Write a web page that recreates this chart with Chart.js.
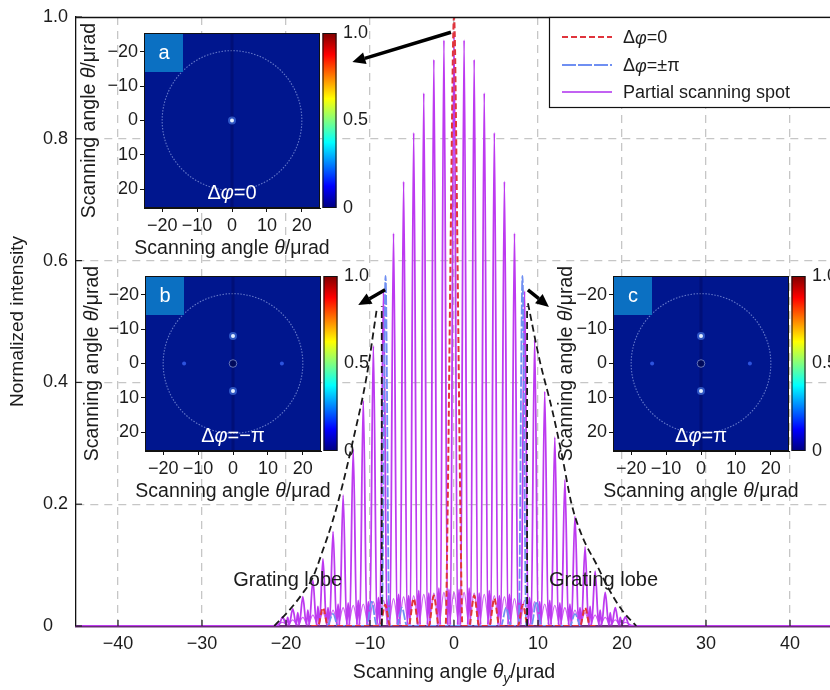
<!DOCTYPE html>
<html><head><meta charset="utf-8">
<script src="https://cdn.jsdelivr.net/npm/chart.js@4.4.1/dist/chart.umd.min.js"></script>
<style>
html,body{margin:0;padding:0;background:#fff;}
#wrap{position:relative;width:830px;height:690px;overflow:hidden;background:#fff;}
canvas{position:absolute;}
</style></head><body>
<div id="wrap">
<canvas id="main" width="830" height="690" style="left:0;top:0"></canvas>
<canvas id="insA" width="290" height="240" style="left:80px;top:20px"></canvas>
<canvas id="insB" width="290" height="240" style="left:81px;top:263px"></canvas>
<canvas id="insC" width="290" height="240" style="left:549px;top:263px"></canvas>
</div>
<script>
// ---------------- data ----------------
const xTickVals = [-40, -30, -20, -10, 0, 10, 20, 30, 40];
const yTickVals = [0, 0.2, 0.4, 0.6, 0.8, 1.0];
const insetTickVals = [-20, -10, 0, 10, 20];
const cbTickVals = [0, 0.5, 1.0];

// partial scanning spot: spike centres, peak heights, sidelobe heights
const spikeX = [-20.4, -19.2, -18.0, -16.8, -15.6, -14.4, -13.2, -12.0, -10.8, -9.6, -8.4, -7.2, -6.0, -4.8, -3.6, -2.4, -1.2, 0,
                1.2, 2.4, 3.6, 4.8, 6.0, 7.2, 8.4, 9.6, 10.8, 12.0, 13.2, 14.4, 15.6, 16.8, 18.0, 19.2, 20.4];
const spikeH = [0.015, 0.028, 0.048, 0.075, 0.11, 0.155, 0.215, 0.29, 0.37, 0.46, 0.55, 0.645, 0.73, 0.81, 0.875, 0.93, 0.962, 0.975,
                0.962, 0.93, 0.875, 0.81, 0.73, 0.645, 0.55, 0.47, 0.385, 0.31, 0.24, 0.18, 0.13, 0.09, 0.055, 0.03, 0.015];
const lobeH = [0.014, 0.022, 0.026, 0.032, 0.03, 0.036, 0.038, 0.042, 0.04, 0.047, 0.045, 0.052, 0.05, 0.058, 0.054, 0.062, 0.06,
               0.06, 0.062, 0.054, 0.058, 0.05, 0.052, 0.045, 0.047, 0.04, 0.042, 0.038, 0.036, 0.03, 0.032, 0.026, 0.022, 0.014];
const meshH = [0.006, 0.01, 0.014, 0.018, 0.022, 0.026, 0.03, 0.034, 0.036, 0.04, 0.042, 0.045, 0.048, 0.05, 0.052, 0.054, 0.055, 0.055,
               0.055, 0.054, 0.052, 0.05, 0.048, 0.045, 0.042, 0.04, 0.036, 0.034, 0.03, 0.026, 0.022, 0.018, 0.014, 0.01, 0.006];

// Δφ = 0
const redX = [-17, -16.2, -15.6, -15.0, -9.2, -8.8, -8.2, -7.6, -5.4, -4.8, -4.2, -3.0, -2.4, -1.8, -1.0, -0.75, -0.5, -0.3, -0.12, 0,
              0.12, 0.3, 0.5, 0.75, 1.0, 1.8, 2.4, 3.0, 4.2, 4.8, 5.4, 7.6, 8.2, 8.8, 9.2, 15.0, 15.6, 16.2, 17];
const redY = [0, 0, 0.03, 0, 0, 0, 0.035, 0, 0, 0.045, 0, 0, 0.05, 0, 0, 0.2, 0.5, 0.75, 0.95, 1.0,
              0.95, 0.75, 0.5, 0.2, 0, 0, 0.05, 0, 0, 0.045, 0, 0, 0.035, 0, 0, 0, 0.03, 0, 0];
// Δφ = ±π
const blueX = [-15, -14.4, -13.8, -10.4, -9.8, -9.2, -8.6, -8.15, -7.7, -6.8, -6.2, -5.6, 5.6, 6.2, 6.8, 7.7, 8.15, 8.6, 9.2, 9.8, 10.4, 13.8, 14.4, 15];
const blueY = [0, 0.02, 0, 0, 0.04, 0, 0, 0.575, 0, 0, 0.03, 0, 0, 0.03, 0, 0, 0.575, 0, 0, 0.04, 0, 0, 0.02, 0];
// black dashed guide curves
const envLX = [-21.4, -19.6, -18.0, -16.8, -15.6, -14.5, -13.3, -12.1, -10.4, -9.2];
const envLY = [0, 0.026, 0.054, 0.08, 0.125, 0.17, 0.23, 0.30, 0.41, 0.52];
const envRX = [8.8, 10.2, 11.7, 12.9, 14.0, 15.3, 16.9, 18.5, 20.0, 21.7];
const envRY = [0.53, 0.436, 0.354, 0.277, 0.2, 0.146, 0.103, 0.059, 0.026, 0];
const vLineX = [-8.6, 8.7];
const vLineTop = [0.525, 0.525];

// annotations (data units)
const arrows = [
  {from: [-0.36, 0.975], to: [-12.1, 0.926]},
  {from: [-8.2, 0.552], to: [-11.4, 0.527]},
  {from: [8.8, 0.552], to: [11.3, 0.524]}
];
const gratingLabels = [{x: -19.8, y: 0.074}, {x: 17.8, y: 0.074}];

// insets
const fovRadius = 20;
const spotsA = [{x: 0, y: 0}];
const spotsBC = [{x: 0, y: -8}, {x: 0, y: 8}];
const faintBC = [{x: -14, y: 0}, {x: 14, y: 0}];
const ringBC = [{x: 0, y: 0}];

// ---------------- style ----------------
const FONT = "'Liberation Sans', Arial, Helvetica, sans-serif";
const TXT = '#1c1c1c';
const RED = '#e0343c', BLUE = '#6f8ff2', PURPLE = '#bd3af0', BLACK = '#1a1a1a', GRID = '#c6c6c6';
Chart.defaults.font.family = FONT;
Chart.defaults.color = TXT;

const fmtSigned = v => v < 0 ? '\u2212' + Math.abs(v) : String(v);

function drawRich(ctx, parts, x, y, size, align, color, rot) {
  ctx.save();
  ctx.translate(x, y);
  if (rot) ctx.rotate(rot);
  ctx.fillStyle = color;
  ctx.textBaseline = 'middle';
  ctx.textAlign = 'left';
  const fontFor = st => (st.indexOf('i') >= 0 ? 'italic ' : '') + (st.indexOf('sub') >= 0 ? Math.round(size * 0.72) : size) + 'px ' + FONT;
  let total = 0;
  const widths = parts.map(([t, st]) => { ctx.font = fontFor(st); const w = ctx.measureText(t).width; total += w; return w; });
  let cx = align === 'center' ? -total / 2 : (align === 'right' ? -total : 0);
  parts.forEach(([t, st], i) => {
    ctx.font = fontFor(st);
    ctx.fillText(t, cx, st.indexOf('sub') >= 0 ? size * 0.32 : 0);
    cx += widths[i];
  });
  ctx.restore();
}

// ---------------- build main series ----------------
const purplePts = [{x: -45, y: 0}, {x: -21.6, y: 0}];
for (let i = 0; i < spikeX.length; i++) {
  const c = spikeX[i];
  purplePts.push({x: c - 0.42, y: 0.002}, {x: c, y: spikeH[i]}, {x: c + 0.42, y: 0.002});
  if (i < lobeH.length) purplePts.push({x: (c + spikeX[i + 1]) / 2, y: lobeH[i]});
}
purplePts.push({x: 21.6, y: 0}, {x: 44.76, y: 0});
const meshPts = [{x: -21.6, y: 0}];
for (let i = 0; i < spikeX.length; i++) {
  meshPts.push({x: spikeX[i], y: meshH[i]});
  meshPts.push({x: spikeX[i] + 0.6, y: 0.002});
}
const zip = (xs, ys) => xs.map((x, i) => ({x, y: ys[i]}));

const lineDs = (data, color, width, dash, order, mono) => ({
  data, showLine: true, borderColor: color, borderWidth: width, borderDash: dash, pointRadius: 0, order,
  tension: 0, cubicInterpolationMode: mono ? 'monotone' : 'default'
});

const mainDatasets = [
  lineDs(meshPts, 'rgba(200,70,240,0.85)', 1.3, [], 6, true),
  lineDs(purplePts, PURPLE, 1.8, [], 5, true),
  lineDs(zip(blueX, blueY), BLUE, 1.8, [10, 2], 4, true),
  lineDs(zip(redX, redY), RED, 2, [6, 3], 3, true),
  lineDs(zip(envLX, envLY), BLACK, 1.8, [7, 4], 1, true),
  lineDs(zip(envRX, envRY), BLACK, 1.8, [7, 4], 1, true),
  lineDs([{x: vLineX[0], y: 0}, {x: vLineX[0], y: vLineTop[0]}], BLACK, 1.8, [7, 4], 1, false),
  lineDs([{x: vLineX[1], y: 0}, {x: vLineX[1], y: vLineTop[1]}], BLACK, 1.8, [7, 4], 1, false)
];

const legendItems = [
  {parts: [['\u0394', ''], ['\u03c6', 'i'], ['=0', '']], color: RED, dash: [6, 3]},
  {parts: [['\u0394', ''], ['\u03c6', 'i'], ['=\u00b1\u03c0', '']], color: BLUE, dash: [14, 2]},
  {parts: [['Partial scanning spot', '']], color: '#c262f2', dash: []}
];

function drawArrow(ctx, x1, y1, x2, y2) {
  const a = Math.atan2(y2 - y1, x2 - x1);
  const hl = 13, hw = 6;
  const bx = x2 - hl * Math.cos(a), by = y2 - hl * Math.sin(a);
  ctx.strokeStyle = '#000'; ctx.fillStyle = '#000'; ctx.lineWidth = 3.5; ctx.setLineDash([]);
  ctx.beginPath(); ctx.moveTo(x1, y1); ctx.lineTo(bx, by); ctx.stroke();
  ctx.beginPath();
  ctx.moveTo(x2, y2);
  ctx.lineTo(bx + hw * Math.sin(a), by - hw * Math.cos(a));
  ctx.lineTo(bx - hw * Math.sin(a), by + hw * Math.cos(a));
  ctx.closePath(); ctx.fill();
}

const mainDecor = {
  id: 'mainDecor',
  afterDraw(chart) {
    const {ctx, chartArea: ca, scales: {x, y}} = chart;
    ctx.save();
    ctx.strokeStyle = '#111'; ctx.lineWidth = 1.3;
    ctx.beginPath(); ctx.moveTo(ca.left, ca.top + 0.5); ctx.lineTo(ca.right, ca.top + 0.5); ctx.stroke();
    ctx.strokeStyle = '#222'; ctx.lineWidth = 1.2;
    xTickVals.forEach(v => { const px = x.getPixelForValue(v); ctx.beginPath(); ctx.moveTo(px, ca.bottom); ctx.lineTo(px, ca.bottom - 6); ctx.stroke(); });
    yTickVals.forEach(v => { const py = y.getPixelForValue(v); ctx.beginPath(); ctx.moveTo(ca.left, py); ctx.lineTo(ca.left + 6, py); ctx.stroke(); });
    arrows.forEach(a => drawArrow(ctx, x.getPixelForValue(a.from[0]), y.getPixelForValue(a.from[1]), x.getPixelForValue(a.to[0]), y.getPixelForValue(a.to[1])));
    gratingLabels.forEach(g => drawRich(ctx, [['Grating lobe', '']], x.getPixelForValue(g.x), y.getPixelForValue(g.y), 20, 'center', TXT));
    drawRich(ctx, [['Normalized intensity', '']], 18, (ca.top + ca.bottom) / 2, 19, 'center', TXT, -Math.PI / 2);
    drawRich(ctx, [['Scanning angle ', ''], ['\u03b8', 'i'], ['y', 'isub'], ['/\u03bcrad', '']], x.getPixelForValue(0), 673, 19.5, 'center', TXT);
    // legend
    ctx.fillStyle = '#fff'; ctx.fillRect(549.5, 17.5, 300, 90);
    ctx.strokeStyle = '#111'; ctx.lineWidth = 1.2; ctx.setLineDash([]);
    ctx.strokeRect(549.5, 17.5, 300, 90);
    const rows = [37, 65, 92];
    legendItems.forEach((it, i) => {
      ctx.save();
      ctx.strokeStyle = it.color; ctx.lineWidth = 2; ctx.setLineDash(it.dash);
      ctx.beginPath(); ctx.moveTo(562, rows[i]); ctx.lineTo(612, rows[i]); ctx.stroke();
      ctx.restore();
      drawRich(ctx, it.parts, 623, rows[i] + 1.5, 18, 'left', TXT);
    });
    ctx.restore();
  }
};

new Chart(document.getElementById('main'), {
  type: 'scatter',
  data: {datasets: mainDatasets},
  options: {
    responsive: false, animation: false, events: [],
    layout: {padding: {left: 43, top: 17, right: 0, bottom: 0}},
    plugins: {legend: {display: false}, tooltip: {enabled: false}},
    scales: {
      x: {
        type: 'linear', min: -45, max: 44.76,
        afterBuildTicks: s => { s.ticks = xTickVals.map(v => ({value: v})); },
        afterFit: s => { s.height = 64; },
        grid: {color: GRID, lineWidth: 1.3, drawTicks: false},
        border: {display: true, color: '#6b2c78', width: 2.5, dash: [8, 6]},
        ticks: {padding: 7, font: {size: 18}, color: TXT, autoSkip: false, maxRotation: 0, callback: v => fmtSigned(v)}
      },
      y: {
        type: 'linear', min: 0, max: 1,
        afterBuildTicks: s => { s.ticks = yTickVals.map(v => ({value: v})); },
        afterFit: s => { s.width = 33; },
        grid: {color: c => (c.tick && (c.tick.value === 0 || c.tick.value === 1)) ? 'rgba(0,0,0,0)' : GRID, lineWidth: 1.3, drawTicks: false},
        border: {display: true, color: '#111', width: 1.3, dash: [8, 6]},
        ticks: {crossAlign: 'far', padding: 4, font: {size: 18}, color: TXT, autoSkip: false, callback: v => v === 0 ? '0' : v.toFixed(1)}
      }
    }
  },
  plugins: [mainDecor]
});

// ---------------- insets ----------------
const insetCfg = {
  insA: {letter: 'a', phase: '=0', spots: spotsA, faint: null, ring: null, ytOff: 54},
  insB: {letter: 'b', phase: '=\u2212\u03c0', spots: spotsBC, faint: faintBC, ring: ringBC, ytOff: 52},
  insC: {letter: 'c', phase: '=\u03c0', spots: spotsBC, faint: faintBC, ring: ringBC, ytOff: 46}
};
const HEAT_BG = '#00168e';
const jet = [[0, '#00007f'], [0.125, '#0000ff'], [0.375, '#00ffff'], [0.625, '#ffff00'], [0.875, '#ff0000'], [1, '#7f0000']];

const insetDecor = {
  id: 'insetDecor',
  beforeDatasetsDraw(chart) {
    const {ctx, chartArea: ca, scales: {x, y}} = chart;
    ctx.save();
    ctx.fillStyle = HEAT_BG; ctx.fillRect(ca.left, ca.top, ca.width, ca.height);
    const cx = x.getPixelForValue(0), cy = y.getPixelForValue(0);
    const r = x.getPixelForValue(fovRadius) - cx;
    ctx.strokeStyle = 'rgba(165,185,240,0.6)'; ctx.lineWidth = 1.1; ctx.setLineDash([1.5, 1.5]);
    ctx.beginPath(); ctx.arc(cx, cy, r, 0, Math.PI * 2); ctx.stroke();
    ctx.restore();
  },
  afterDraw(chart) {
    const cfg = insetCfg[chart.canvas.id];
    const {ctx, chartArea: ca} = chart;
    ctx.save();
    ctx.strokeStyle = '#111'; ctx.lineWidth = 1; ctx.setLineDash([]);
    ctx.strokeRect(ca.left + 0.5, ca.top + 0.5, ca.width - 1, ca.height - 1);
    ctx.fillStyle = '#0b70c2'; ctx.fillRect(ca.left + 1, ca.top + 1, 38, 38);
    drawRich(ctx, [[cfg.letter, '']], ca.left + 20, ca.top + 20, 20, 'center', '#fff');
    drawRich(ctx, [['\u0394', ''], ['\u03c6', 'i'], [cfg.phase, '']], ca.left + ca.width / 2, ca.bottom - 15, 20, 'center', '#fff');
    const bx = ca.right + 2.5, bw = 14;
    const g = ctx.createLinearGradient(0, ca.bottom, 0, ca.top);
    jet.forEach(([s, c]) => g.addColorStop(s, c));
    ctx.fillStyle = g; ctx.fillRect(bx, ca.top, bw, ca.height);
    ctx.strokeStyle = '#111'; ctx.strokeRect(bx + 0.5, ca.top + 0.5, bw - 1, ca.height - 1);
    const title = [['Scanning angle ', ''], ['\u03b8', 'i'], ['/\u03bcrad', '']];
    drawRich(ctx, title, ca.left - cfg.ytOff, (ca.top + ca.bottom) / 2, 19.5, 'center', TXT, -Math.PI / 2);
    drawRich(ctx, title, ca.left + ca.width / 2, ca.bottom + 41, 19.5, 'center', TXT);
    ctx.restore();
  }
};

function makeInset(id) {
  const o = insetCfg[id];
  const ds = [
    {data: [{x: 0, y: -25.4}, {x: 0, y: 25.4}], showLine: true, borderColor: 'rgba(0,0,70,0.3)', borderWidth: 3, pointRadius: 0, order: 6},
    {data: o.spots, pointRadius: 4, backgroundColor: 'rgba(90,150,255,0.5)', borderWidth: 0, order: 3},
    {data: o.spots, pointRadius: 2, backgroundColor: '#e0ecff', borderWidth: 0, order: 2}
  ];
  if (o.faint) ds.push({data: o.faint, pointRadius: 2, backgroundColor: 'rgba(50,90,230,0.9)', borderWidth: 0, order: 4});
  if (o.ring) ds.push({data: o.ring, pointRadius: 3.8, backgroundColor: 'rgba(0,0,40,0.4)', borderColor: 'rgba(140,155,210,0.7)', borderWidth: 1, order: 1});
  const axisCommon = {
    grid: {display: true, drawOnChartArea: false, drawTicks: true, tickLength: 4, color: '#111', lineWidth: 1},
    border: {display: true, color: '#111', width: 1},
  };
  new Chart(document.getElementById(id), {
    type: 'scatter',
    data: {datasets: ds},
    options: {
      responsive: false, animation: false, events: [],
      layout: {padding: {top: 13, left: 0, right: 0, bottom: 0}, autoPadding: false},
      plugins: {legend: {display: false}, tooltip: {enabled: false}},
      scales: {
        x: Object.assign({}, axisCommon, {
          type: 'linear', min: -25.2, max: 25.2,
          afterBuildTicks: s => { s.ticks = insetTickVals.map(v => ({value: v})); },
          afterFit: s => { s.height = 52; },
          ticks: {padding: 3, font: {size: 18}, color: TXT, autoSkip: false, maxRotation: 0, callback: v => fmtSigned(v)}
        }),
        y: Object.assign({}, axisCommon, {
          type: 'linear', min: -25.4, max: 25.4, reverse: true,
          afterBuildTicks: s => { s.ticks = insetTickVals.map(v => ({value: v})); },
          afterFit: s => { s.width = 64; },
          ticks: {padding: 2, font: {size: 18}, color: TXT, autoSkip: false, callback: v => fmtSigned(v)}
        }),
        cb: {
          type: 'linear', position: 'right', min: 0, max: 1,
          afterBuildTicks: s => { s.ticks = cbTickVals.map(v => ({value: v})); },
          afterFit: s => { s.width = 50; },
          grid: {display: true, drawOnChartArea: false, drawTicks: true, tickLength: 21, color: 'rgba(0,0,0,0)'},
          border: {display: false},
          ticks: {padding: 2, font: {size: 18}, color: TXT, autoSkip: false, callback: v => v === 0 ? '0' : v.toFixed(1)}
        }
      }
    },
    plugins: [insetDecor]
  });
}
makeInset('insA');
makeInset('insB');
makeInset('insC');
</script>
</body></html>
